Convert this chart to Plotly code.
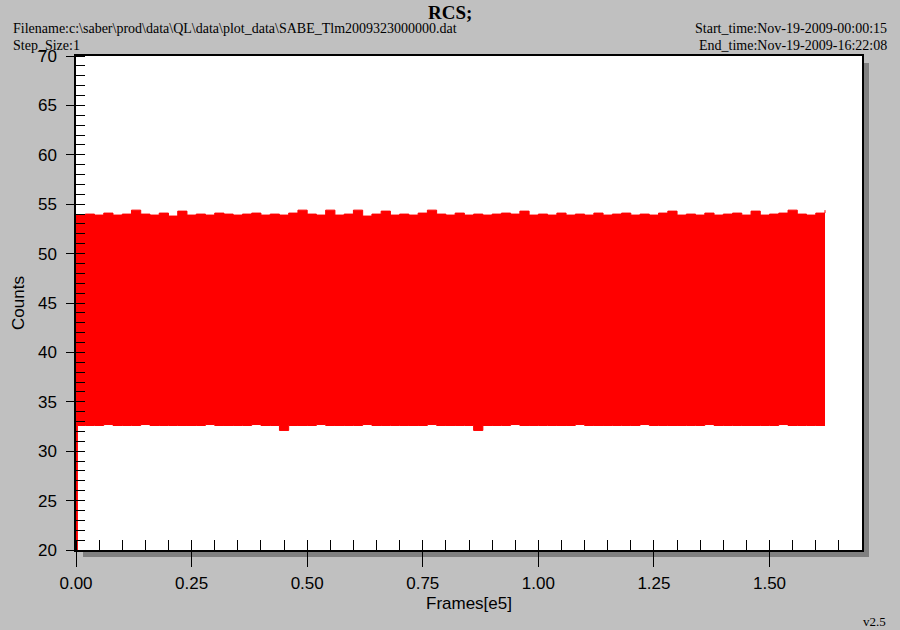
import plotly.graph_objects as go

# ---- data ----
frames_upper = [0.00, 0.02, 0.04, 0.06, 0.08, 0.10, 0.12, 0.14, 0.16, 0.18,
                0.20, 0.22, 0.24, 0.26, 0.28, 0.30, 0.32, 0.34, 0.36, 0.38,
                0.40, 0.42, 0.44, 0.46, 0.48, 0.50, 0.52, 0.54, 0.56, 0.58,
                0.60, 0.62, 0.64, 0.66, 0.68, 0.70, 0.72, 0.74, 0.76, 0.78,
                0.80, 0.82, 0.84, 0.86, 0.88, 0.90, 0.92, 0.94, 0.96, 0.98,
                1.00, 1.02, 1.04, 1.06, 1.08, 1.10, 1.12, 1.14, 1.16, 1.18,
                1.20, 1.22, 1.24, 1.26, 1.28, 1.30, 1.32, 1.34, 1.36, 1.38,
                1.40, 1.42, 1.44, 1.46, 1.48, 1.50, 1.52, 1.54, 1.56, 1.58,
                1.60, 1.62]
counts_upper = [53.9, 54.0, 53.9, 54.1, 53.9, 54.0, 54.4, 54.0, 53.9, 54.1,
                53.8, 54.3, 53.9, 54.0, 53.9, 54.1, 54.0, 53.9, 54.0, 54.1,
                53.9, 54.0, 53.9, 54.1, 54.4, 54.0, 53.9, 54.4, 53.9, 54.0,
                54.4, 53.8, 54.0, 54.3, 53.9, 54.0, 53.9, 54.1, 54.4, 54.0,
                53.9, 54.1, 53.9, 54.0, 53.9, 54.0, 54.1, 54.0, 54.3, 53.9,
                54.0, 53.9, 54.1, 53.9, 54.0, 53.9, 54.1, 53.9, 54.0, 54.1,
                53.9, 54.0, 53.9, 54.1, 54.3, 53.9, 54.0, 53.9, 54.1, 53.9,
                54.0, 54.1, 53.9, 54.3, 53.9, 54.0, 54.1, 54.4, 54.0, 53.9,
                54.1, 54.4]

frames_lower = [0.00, 0.003, 0.02, 0.04, 0.06, 0.08, 0.10, 0.12, 0.14, 0.16, 0.18,
                0.20, 0.22, 0.24, 0.26, 0.28, 0.30, 0.32, 0.34, 0.36, 0.38,
                0.40, 0.42, 0.44, 0.46, 0.48, 0.50, 0.52, 0.54, 0.56, 0.58,
                0.60, 0.62, 0.64, 0.66, 0.68, 0.70, 0.72, 0.74, 0.76, 0.78,
                0.80, 0.82, 0.84, 0.86, 0.88, 0.90, 0.92, 0.94, 0.96, 0.98,
                1.00, 1.02, 1.04, 1.06, 1.08, 1.10, 1.12, 1.14, 1.16, 1.18,
                1.20, 1.22, 1.24, 1.26, 1.28, 1.30, 1.32, 1.34, 1.36, 1.38,
                1.40, 1.42, 1.44, 1.46, 1.48, 1.50, 1.52, 1.54, 1.56, 1.58,
                1.60, 1.62]
counts_lower = [20.0, 32.6, 32.6, 32.6, 32.7, 32.6, 32.6, 32.6, 32.7, 32.6, 32.6,
                32.6, 32.6, 32.6, 32.6, 32.7, 32.6, 32.6, 32.6, 32.6, 32.7,
                32.6, 32.6, 32.1, 32.6, 32.6, 32.6, 32.7, 32.6, 32.6, 32.6,
                32.6, 32.7, 32.6, 32.6, 32.6, 32.6, 32.6, 32.6, 32.7, 32.6,
                32.6, 32.6, 32.6, 32.1, 32.6, 32.6, 32.6, 32.7, 32.6, 32.6,
                32.6, 32.6, 32.6, 32.6, 32.7, 32.6, 32.6, 32.6, 32.6, 32.6,
                32.6, 32.7, 32.6, 32.6, 32.6, 32.6, 32.6, 32.6, 32.7, 32.6,
                32.6, 32.6, 32.6, 32.6, 32.6, 32.6, 32.7, 32.6, 32.6, 32.6,
                32.6, 32.6]

title_text = "RCS;"
filename_text = "Filename:c:\\saber\\prod\\data\\QL\\data\\plot_data\\SABE_Tlm2009323000000.dat"
step_text = "Step_Size:1"
start_text = "Start_time:Nov-19-2009-00:00:15"
end_text = "End_time:Nov-19-2009-16:22:08"
version_text = "v2.5"

RED = "#ff0000"
BG = "#c0c0c0"
SERIF = "Liberation Serif, Times New Roman, serif"
SANS = "Liberation Sans, Arial, sans-serif"

fig = go.Figure()
fig.add_trace(go.Scatter(x=frames_lower, y=counts_lower, mode="lines",
                         line=dict(color=RED, width=1, shape="hv"),
                         hoverinfo="skip", showlegend=False))
fig.add_trace(go.Scatter(x=frames_upper, y=counts_upper, mode="lines",
                         line=dict(color=RED, width=1, shape="hv"),
                         fill="tonexty", fillcolor=RED,
                         hoverinfo="skip", showlegend=False))

W, H = 900, 630
ml, mr, mt, mb = 76, 38, 56, 80
pw = W - ml - mr
ph = H - mt - mb
sx = 7 / pw
sy = 7 / ph


def px_x(v):
    return (v - ml) / pw


def px_y(v):
    return 1 - (v - mt) / ph


fig.update_layout(
    width=W, height=H,
    margin=dict(l=ml, r=mr, t=mt, b=mb),
    paper_bgcolor=BG,
    plot_bgcolor="white",
    showlegend=False,
    xaxis=dict(range=[0, 1.7], dtick=0.25, tick0=0, tickformat=".2f",
               ticks="outside", ticklen=15, tickwidth=1, tickcolor="black",
               showline=True, linecolor="black", linewidth=1.5, mirror=True,
               showgrid=False, zeroline=False, ticklabelstandoff=2,
               minor=dict(dtick=0.05, tick0=0, ticks="inside", ticklen=10,
                          tickcolor="black", tickwidth=1, showgrid=False),
               tickfont=dict(family=SANS, size=17, color="black"),
               title=dict(text="Frames[e5]", font=dict(family=SANS, size=17, color="black"),
                          standoff=5)),
    yaxis=dict(range=[20, 70], dtick=5, tick0=20,
               ticks="outside", ticklen=8, tickwidth=1, tickcolor="black",
               showline=True, linecolor="black", linewidth=1.5, mirror=True,
               showgrid=False, zeroline=False, ticklabelstandoff=6,
               minor=dict(dtick=1, tick0=20, ticks="inside", ticklen=9,
                          tickcolor="black", tickwidth=1, showgrid=False),
               tickfont=dict(family=SANS, size=17, color="black"),
               title=dict(text="Counts", font=dict(family=SANS, size=17, color="black"),
                          standoff=9)),
    xaxis2=dict(overlaying="x", anchor="y", range=[0, 1.7], dtick=0.25, tick0=0,
                ticks="inside", ticklen=10, tickcolor="black", tickwidth=1,
                showticklabels=False, showline=False, showgrid=False, zeroline=False,
                side="bottom"),
    yaxis2=dict(overlaying="y", anchor="x", range=[20, 70], dtick=5, tick0=20,
                ticks="inside", ticklen=9, tickcolor="black", tickwidth=1,
                showticklabels=False, showline=False, showgrid=False, zeroline=False,
                side="left"),
    shapes=[
        dict(type="rect", xref="paper", yref="paper",
             x0=1, x1=1 + sx, y0=-sy, y1=1 - sy,
             fillcolor="#808080", line=dict(width=0), layer="below"),
        dict(type="rect", xref="paper", yref="paper",
             x0=sx, x1=1 + sx, y0=-sy, y1=0,
             fillcolor="#808080", line=dict(width=0), layer="below"),
    ],
    annotations=[
        dict(text="<b>" + title_text + "</b>", x=px_x(450), y=px_y(12),
             xanchor="center", yanchor="middle",
             font=dict(family=SERIF, size=19, color="black")),
        dict(text=filename_text, x=px_x(11), y=px_y(29),
             xanchor="left", yanchor="middle",
             font=dict(family=SERIF, size=14, color="black")),
        dict(text=step_text, x=px_x(11), y=px_y(45),
             xanchor="left", yanchor="middle",
             font=dict(family=SERIF, size=14, color="black")),
        dict(text=start_text, x=px_x(889), y=px_y(29),
             xanchor="right", yanchor="middle",
             font=dict(family=SERIF, size=14, color="black")),
        dict(text=end_text, x=px_x(889), y=px_y(45),
             xanchor="right", yanchor="middle",
             font=dict(family=SERIF, size=14, color="black")),
        dict(text=version_text, x=px_x(888), y=px_y(621),
             xanchor="right", yanchor="middle",
             font=dict(family=SERIF, size=13, color="black")),
    ],
)
fig.update_annotations(xref="paper", yref="paper", showarrow=False)

fig.write_html("out.html", config={"displayModeBar": False},
               post_script="document.body.style.margin='0';document.body.style.overflow='hidden';")
